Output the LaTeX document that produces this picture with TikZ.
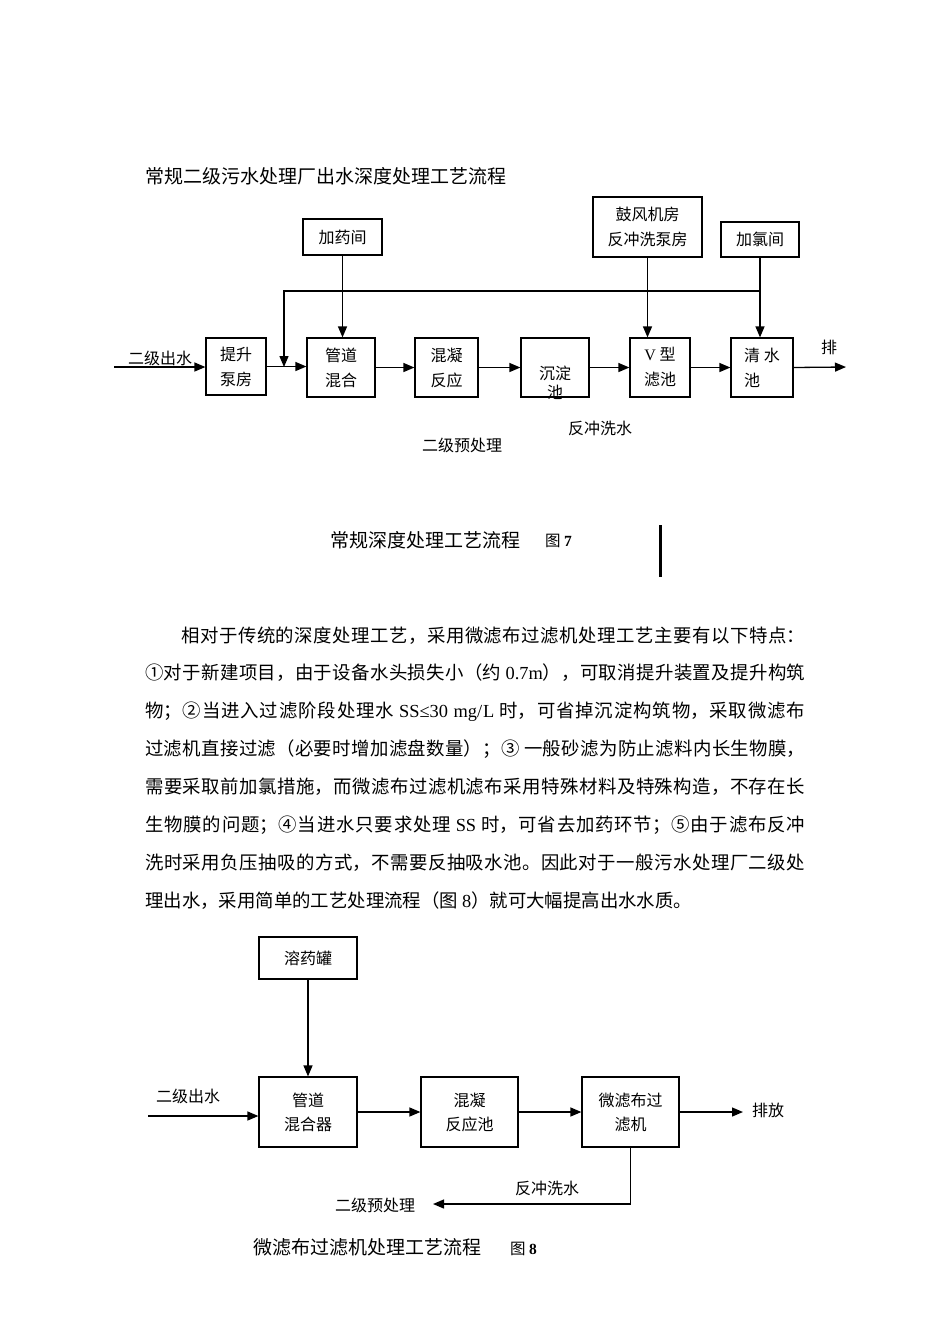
\documentclass[tikz,border=0pt]{standalone}
\usepackage{fontspec}
\setmainfont{Noto Sans CJK SC}
\newfontfamily\en{Liberation Serif}
\usetikzlibrary{arrows.meta}
\XeTeXlinebreaklocale "zh"
\XeTeXlinebreakskip=0pt plus 2pt
\newcommand{\captext}{\fontsize{19}{19}\selectfont}
\newcommand{\bodytext}{\fontsize{18.4}{22}\selectfont}

\begin{document}
\begin{tikzpicture}[x=1pt,y=-1pt,
    box node/.style={draw, line width=1.2pt, align=center, inner sep=0pt,
      font=\fontsize{16}{25}\selectfont},
    flow/.style={line width=1.3pt, -{Triangle[length=11pt,width=9pt]}},
    label node/.style={font=\fontsize{16}{16}\selectfont},
    body line/.style={anchor=base west, inner sep=0pt, font=\bodytext},
    full line/.style={body line, text width=#1, align=justify,
      execute at begin node={\parfillskip=0pt\relax}},
    full line/.default=660pt]
    \useasboundingbox (0,0) rectangle (950,1344);

    % figure 7
    \node[anchor=west, inner sep=0pt, font=\captext] (title) at (145,176) {常规二级污水处理厂出水深度处理工艺流程};

    \node[box node, minimum width=60pt, minimum height=57pt] (1) at (236,366.5) {提升\\泵房};
    \node[box node, minimum width=68pt, minimum height=59pt] (2) at (341,367.5) {管道\\混合};
    \node[box node, minimum width=63pt, minimum height=59pt] (3) at (446.5,367.5) {混凝\\反应};
    \node[box node, minimum width=68pt, minimum height=59pt] (4) at (555,367.5) {};
    \node[label node, align=center, font=\fontsize{16}{19}\selectfont] (4t) at (555,382.5) {沉淀\\池};
    \node[box node, minimum width=60pt, minimum height=59pt] (5) at (660,367.5) {{\en V} 型\\滤池};
    \node[box node, minimum width=62pt, minimum height=59pt, align=left] (6) at (762,367.5) {清 水\\池};

    \node[box node, minimum width=79pt, minimum height=36pt] (7) at (342.5,237) {加药间};
    \node[box node, minimum width=109pt, minimum height=60pt] (8) at (647.5,227) {鼓风机房\\反冲洗泵房};
    \node[box node, minimum width=78pt, minimum height=35pt] (9) at (760,239.5) {加氯间};

    \coordinate (in7) at (114,367);
    \coordinate (out7) at (846,367);
    \coordinate (t1) at (284,291);
    \coordinate (t2) at (284,367);

    \node[label node] (l1) at (160,358) {二级出水};
    \node[label node] (l2) at (829,347) {排};
    \node[label node] (l3) at (462,445) {二级预处理};
    \node[label node] (l4) at (600,428) {反冲洗水};

    \draw[flow] (in7) -- (in7 -| 1.west);
    \draw[flow] (1.east) -- (1.east -| 2.west);
    \draw[flow] (2.east) -- (3.west);
    \draw[flow] (3.east) -- (4.west);
    \draw[flow] (4.east) -- (5.west);
    \draw[flow] (5.east) -- (6.west);
    \draw[flow] (6.east) -- (out7);
    \draw[flow] (7.south) -- (7.south |- 2.north);
    \draw[flow] (8.south) -- (8.south |- 5.north);
    \draw[flow] (9.south) -- (9.south |- 6.north);
    \draw[flow] (9.south |- t1) -- (t1) -- (t2);

    \node[anchor=west, inner sep=0pt, font=\captext] (cap7) at (330,540) {常规深度处理工艺流程};
    \node[anchor=west, inner sep=0pt, font=\fontsize{15.5}{15.5}\selectfont] (fig7) at (545,541) {图 {\en\bfseries 7}};
    \draw[line width=3pt] (660,525) -- (660,577);

    % text
    \node[full line=624pt] (p1) at (181,642) {相对于传统的深度处理工艺，采用微滤布过滤机处理工艺主要有以下特点：};
    \node[full line] (p2) at (145,679) {①对于新建项目，由于设备水头损失小（约 {\en 0.7m}），可取消提升装置及提升构筑};
    \node[full line] (p3) at (145,717) {物；②当进入过滤阶段处理水 {\en SS≤30 mg/L} 时，可省掉沉淀构筑物，采取微滤布};
    \node[full line] (p4) at (145,755) {过滤机直接过滤（必要时增加滤盘数量）；③ 一般砂滤为防止滤料内长生物膜，};
    \node[full line] (p5) at (145,793) {需要采取前加氯措施，而微滤布过滤机滤布采用特殊材料及特殊构造，不存在长};
    \node[full line] (p6) at (145,831) {生物膜的问题；④当进水只要求处理 {\en SS} 时，可省去加药环节；⑤由于滤布反冲};
    \node[full line] (p7) at (145,869) {洗时采用负压抽吸的方式，不需要反抽吸水池。因此对于一般污水处理厂二级处};
    \node[body line] (p8) at (145,907) {理出水，采用简单的工艺处理流程（图 {\en 8}）就可大幅提高出水水质。};

    % figure 8
    \node[box node, minimum width=98pt, minimum height=42pt] (11) at (308,958) {溶药罐};
    \node[box node, minimum width=98pt, minimum height=70pt, font=\fontsize{16}{24}\selectfont] (12) at (308,1112) {管道\\混合器};
    \node[box node, minimum width=97pt, minimum height=70pt, font=\fontsize{16}{24}\selectfont] (13) at (469.5,1112) {混凝\\反应池};
    \node[box node, minimum width=97pt, minimum height=70pt, font=\fontsize{16}{24}\selectfont] (14) at (630.5,1112) {微滤布过\\滤机};

    \coordinate (in8) at (148,1116);
    \coordinate (out8) at (743,1112);
    \coordinate (bw) at (433,1204);

    \node[label node] (m1) at (188,1096) {二级出水};
    \node[label node] (m2) at (768,1110) {排放};
    \node[label node] (m3) at (547,1188) {反冲洗水};
    \node[label node] (m4) at (375,1205) {二级预处理};

    \draw[flow] (11.south) -- (12.north);
    \draw[flow] (in8) -- (in8 -| 12.west);
    \draw[flow] (12.east) -- (13.west);
    \draw[flow] (13.east) -- (14.west);
    \draw[flow] (14.east) -- (out8);
    \draw[flow] (14.south) |- (bw);

    \node[anchor=west, inner sep=0pt, font=\captext] (cap8) at (253,1247) {微滤布过滤机处理工艺流程};
    \node[anchor=west, inner sep=0pt, font=\fontsize{15.5}{15.5}\selectfont] (fig8) at (510,1249) {图 {\en\bfseries 8}};
\end{tikzpicture}
\end{document}
